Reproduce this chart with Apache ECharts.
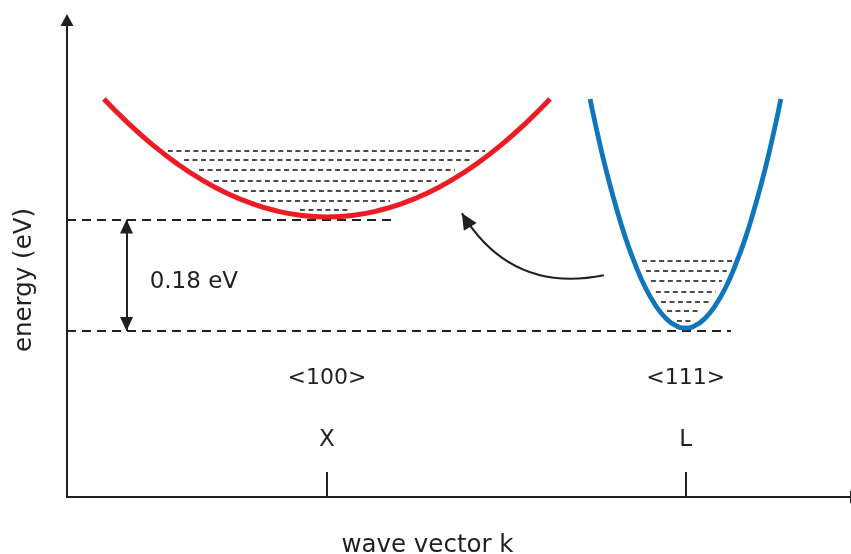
<!DOCTYPE html>
<html>
<head>
<meta charset="utf-8">
<script src="https://cdn.jsdelivr.net/npm/echarts@6/dist/echarts.min.js"></script>
<style>
  html, body { margin: 0; padding: 0; background: #ffffff; }
  #chart { width: 851px; height: 554px; }
</style>
</head>
<body>
<div id="chart"></div>
<script>
// Conduction-band valleys in energy vs wave vector (energies in eV).
const valleyK = [1.0, 2.38];
const valleyNames = ['X', 'L'];
const directionLabels = ['<100>', '<111>'];

// X valley (red) — wave vector and energy samples along the band
const xBandK = [0.142, 0.231, 0.327, 0.423, 0.519, 0.615, 0.712, 0.808, 0.904, 1.0,
                1.096, 1.192, 1.288, 1.385, 1.481, 1.577, 1.673, 1.769, 1.858];
const xBandE = [0.3745, 0.3372, 0.3013, 0.2702, 0.2439, 0.2223, 0.2056, 0.1936, 0.1864, 0.184,
                0.1864, 0.1936, 0.2056, 0.2223, 0.2439, 0.2702, 0.3013, 0.3372, 0.3745];

// L valley (blue)
const lBandK = [2.012, 2.033, 2.071, 2.110, 2.148, 2.187, 2.225, 2.264, 2.302, 2.341, 2.379,
                2.417, 2.456, 2.494, 2.533, 2.571, 2.610, 2.648, 2.687, 2.725, 2.746];
const lBandE = [0.3744, 0.3330, 0.2641, 0.2033, 0.1507, 0.1061, 0.0698, 0.0413, 0.0212, 0.0089, 0.0048,
                0.0089, 0.0212, 0.0413, 0.0698, 0.1061, 0.1507, 0.2033, 0.2641, 0.3330, 0.3744];

// Filled electron levels inside each valley: energy, left k, right k
const xLevelE  = [0.291, 0.276, 0.260, 0.242, 0.226, 0.210, 0.195];
const xLevelK1 = [0.388, 0.450, 0.508, 0.565, 0.642, 0.746, 0.896];
const xLevelK2 = [1.608, 1.550, 1.492, 1.423, 1.358, 1.242, 1.088];

const lLevelE  = [0.113, 0.097, 0.081, 0.063, 0.047, 0.032, 0.016];
const lLevelK1 = [2.212, 2.227, 2.246, 2.265, 2.285, 2.308, 2.346];
const lLevelK2 = [2.558, 2.538, 2.519, 2.496, 2.473, 2.438, 2.400];

// Band-minimum reference lines: energy and right end in k
const minimaE = [0.18, 0.0];
const minimaEndK = [1.269, 2.554];

// Energy gap between the two minima
const gapK = 0.229;
const gapValue = 0.18;
const gapLabel = '0.18 eV';
const gapLabelPos = [0.488, 0.079];

// Scattering arrow: from the L valley toward the X valley
const transferFrom = [2.065, 0.090];
const transferTo = [1.519, 0.190];

const directionE = -0.076;

const INK = '#231f20';
const RED = '#ed1c24';
const BLUE = '#0f75bc';
const FONT = '"DejaVu Sans", sans-serif';

// Arrow heads drawn in a square box with the tip at its centre,
// so the tip lands exactly on the line's end point.
const GAP_HEAD = 'path://M14,14 L20.5,28 L7.5,28 Z M0,0 L28,0';
const TRANSFER_HEAD = 'path://M16,16 L23.5,32 L8.5,32 Z M0,0 L32,0';

const zip = (ks, es) => ks.map((k, i) => [k, es[i]]);

const levelLines = [];
xLevelE.forEach((e, i) => levelLines.push({ coords: [[xLevelK1[i], e], [xLevelK2[i], e]] }));
lLevelE.forEach((e, i) => levelLines.push({ coords: [[lLevelK1[i], e], [lLevelK2[i], e]] }));

const minimaLines = minimaE.map((e, i) => ({ coords: [[0, e], [minimaEndK[i], e]] }));

const textMarks = [
  [valleyK[0], directionE, directionLabels[0], 22],
  [valleyK[1], directionE, directionLabels[1], 22],
  [gapLabelPos[0], gapLabelPos[1], gapLabel, 23]
];

const chart = echarts.init(document.getElementById('chart'), null, { renderer: 'canvas' });

chart.setOption({
  animation: false,
  backgroundColor: '#ffffff',
  textStyle: { fontFamily: FONT, color: INK },
  grid: { left: 67, right: -5, top: 20, bottom: 57, containLabel: false, outerBoundsMode: 'none' },
  xAxis: {
    type: 'value',
    min: 0,
    max: 3.035,
    splitLine: { show: false },
    axisLine: {
      show: true,
      onZero: false,
      symbol: ['none', 'triangle'],
      symbolSize: [13, 12],
      lineStyle: { color: INK, width: 2 }
    },
    axisTick: {
      show: true,
      customValues: valleyK,
      inside: true,
      length: 25,
      lineStyle: { color: INK, width: 2 }
    },
    axisLabel: {
      show: true,
      customValues: valleyK,
      inside: true,
      margin: 45,
      fontFamily: FONT,
      fontSize: 23,
      color: INK,
      formatter: (v) => {
        let best = 0;
        valleyK.forEach((k, i) => { if (Math.abs(k - v) < Math.abs(valleyK[best] - v)) best = i; });
        return valleyNames[best];
      }
    },
    name: 'wave vector k',
    nameLocation: 'middle',
    nameGap: 36,
    nameTextStyle: { fontFamily: FONT, fontSize: 24.5, color: INK, padding: [0, 68, 0, 0] }
  },
  yAxis: {
    type: 'value',
    min: -0.268,
    max: 0.502,
    splitLine: { show: false },
    axisTick: { show: false },
    axisLabel: { show: false },
    axisLine: {
      show: true,
      onZero: false,
      symbol: ['none', 'triangle'],
      symbolSize: [13, 12],
      lineStyle: { color: INK, width: 2 }
    },
    name: 'energy (eV)',
    nameLocation: 'middle',
    nameGap: 30,
    nameTextStyle: { fontFamily: FONT, fontSize: 24.5, color: INK, padding: [0, 43, 0, 0] }
  },
  series: [
    {
      name: 'minima',
      type: 'lines',
      coordinateSystem: 'cartesian2d',
      silent: true,
      symbol: 'none',
      lineStyle: { color: INK, width: 2, type: [9, 6], opacity: 1 },
      data: minimaLines,
      z: 2
    },
    {
      name: 'levels',
      type: 'lines',
      coordinateSystem: 'cartesian2d',
      silent: true,
      symbol: 'none',
      lineStyle: { color: '#111111', width: 1.6, type: [5, 3.5], opacity: 1 },
      data: levelLines,
      z: 2
    },
    {
      name: 'gap',
      type: 'lines',
      coordinateSystem: 'cartesian2d',
      silent: true,
      symbol: [GAP_HEAD, GAP_HEAD],
      symbolSize: 28,
      lineStyle: { color: INK, width: 2, opacity: 1 },
      data: [{ coords: [[gapK, minimaE[1]], [gapK, minimaE[1] + gapValue]] }],
      z: 3
    },
    {
      name: 'transfer',
      type: 'lines',
      coordinateSystem: 'cartesian2d',
      silent: true,
      symbol: ['none', TRANSFER_HEAD],
      symbolSize: 32,
      lineStyle: { color: INK, width: 2.2, opacity: 1, curveness: 0.35 },
      data: [{ coords: [transferFrom, transferTo] }],
      z: 3
    },
    {
      name: 'X valley',
      type: 'line',
      smooth: 0.5,
      symbol: 'none',
      lineStyle: { color: RED, width: 5 },
      data: zip(xBandK, xBandE),
      z: 4
    },
    {
      name: 'L valley',
      type: 'line',
      smooth: 0.5,
      symbol: 'none',
      lineStyle: { color: BLUE, width: 4.8 },
      data: zip(lBandK, lBandE),
      z: 4
    },
    {
      name: 'annotations',
      type: 'scatter',
      silent: true,
      symbolSize: 0,
      itemStyle: { opacity: 1 },
      data: textMarks.map(t => ({ value: [t[0], t[1]], name: t[2], label: { fontSize: t[3] } })),
      label: {
        show: true,
        position: 'inside',
        formatter: (p) => p.name,
        fontFamily: FONT,
        color: INK,
        opacity: 1,
        textBorderWidth: 0
      },
      z: 5
    }
  ]
});
</script>
</body>
</html>
